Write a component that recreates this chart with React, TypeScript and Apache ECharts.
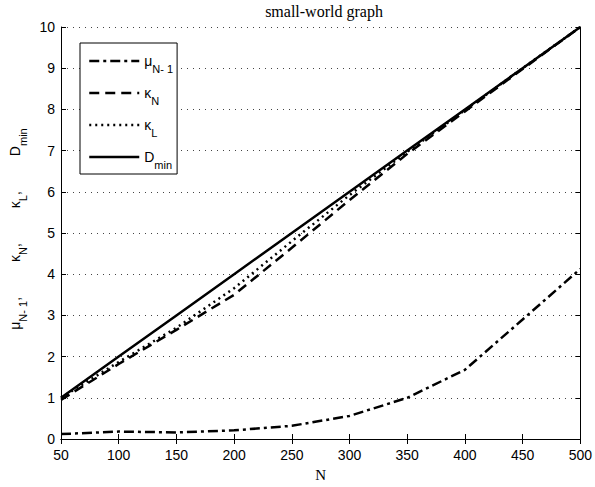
import React, { useEffect, useRef } from "react";
import * as echarts from "echarts";

const N = [50, 100, 150, 200, 250, 300, 350, 400, 450, 500];
const muN1 = [0.12, 0.18, 0.16, 0.21, 0.32, 0.56, 1.0, 1.68, 2.9, 4.13];
const kappaN = [0.95, 1.82, 2.65, 3.5, 4.64, 5.8, 6.92, 7.95, 8.98, 10.0];
const kappaL = [1.0, 1.87, 2.7, 3.66, 4.8, 5.92, 6.97, 7.98, 9.0, 10.0];
const Dmin = [1, 2, 3, 4, 5, 6, 7, 8, 9, 10];

const xTicks = { min: 50, max: 500, interval: 50 };
const yTicks = { min: 0, max: 10, interval: 1 };

const SANS = "Liberation Sans, Arial, sans-serif";
const SERIF = "Liberation Serif, Times New Roman, serif";

const legendRich: Record<string, string> = {
  "μN-1": "{b|μ}{s|N- 1}",
  "κN": "{b|κ}{s|N}",
  "κL": "{b|κ}{s|L}",
  "Dmin": "{b|D}{s|min}",
};

const richStyles = {
  b: { fontSize: 14, fontFamily: SANS, color: "#000", lineHeight: 26, verticalAlign: "middle" },
  s: { fontSize: 11, fontFamily: SANS, color: "#000", lineHeight: 11, verticalAlign: "bottom" },
};

export default function App() {
  const ref = useRef<HTMLDivElement>(null);
  useEffect(() => {
    if (!ref.current) return;
    const chart = echarts.init(ref.current, undefined, { renderer: "svg" });
    const mk = (xs: number[], ys: number[]) => xs.map((x, i) => [x, ys[i]]);
    const lw = 2.5;
    chart.setOption({
      animation: false,
      backgroundColor: "#fff",
      title: {
        text: "small-world graph",
        left: 319,
        textAlign: "center",
        top: -2,
        textStyle: { fontFamily: SERIF, fontSize: 16, fontWeight: "normal", color: "#000" },
      },
      grid: { left: 56, right: 12, top: 27, bottom: 44, containLabel: false },
      legend: {
        orient: "vertical",
        left: 80,
        top: 43,
        itemWidth: 50,
        itemHeight: 14,
        itemGap: 12,
        padding: [11, 4, 4, 8],
        borderColor: "#000",
        borderWidth: 1,
        backgroundColor: "#fff",
        lineStyle: { width: lw },
        itemStyle: { opacity: 0 },
        data: ["μN-1", "κN", "κL", "Dmin"],
        formatter: (name: string) => legendRich[name] || name,
        textStyle: { fontFamily: SANS, fontSize: 14, color: "#000", rich: richStyles },
      },
      xAxis: [
        {
          type: "value",
          ...xTicks,
          position: "bottom",
          name: "N",
          nameLocation: "middle",
          nameGap: 28,
          nameTextStyle: { fontFamily: SERIF, fontSize: 15, color: "#000" },
          axisLine: { show: true, lineStyle: { color: "#000", width: 1 } },
          axisTick: { show: true, inside: true, length: 5, lineStyle: { color: "#000" } },
          axisLabel: { fontFamily: SANS, fontSize: 14, color: "#000", margin: 9 },
          splitLine: { show: false },
        },
        {
          type: "value",
          ...xTicks,
          position: "top",
          axisLine: { show: true, lineStyle: { color: "#000", width: 1 } },
          axisTick: { show: true, inside: true, length: 5, lineStyle: { color: "#000" } },
          axisLabel: { show: false },
          splitLine: { show: false },
        },
      ],
      yAxis: [
        {
          type: "value",
          ...yTicks,
          position: "left",
          name: "{b|μ}{s|N- 1}{b|,         κ}{s|N}{b|,         κ}{s|L}{b|,         D}{s|min}",
          nameLocation: "middle",
          nameRotate: 90,
          nameGap: 33,
          nameTextStyle: {
            fontFamily: SANS,
            fontSize: 14,
            color: "#000",
            padding: [0, 0, 0, 8],
            rich: richStyles,
          },
          axisLine: { show: true, lineStyle: { color: "#000", width: 1 } },
          axisTick: { show: true, inside: true, length: 5, lineStyle: { color: "#000" } },
          axisLabel: { fontFamily: SANS, fontSize: 14, color: "#000", margin: 6 },
          splitLine: { show: true, lineStyle: { color: "#444", width: 1, type: [1, 5] } },
        },
        {
          type: "value",
          ...yTicks,
          position: "right",
          axisLine: { show: true, lineStyle: { color: "#000", width: 1 } },
          axisTick: { show: true, inside: true, length: 5, lineStyle: { color: "#000" } },
          axisLabel: { show: false },
          splitLine: { show: false },
        },
      ],
      series: [
        {
          name: "μN-1",
          type: "line",
          data: mk(N, muN1),
          symbol: "none",
          lineStyle: { color: "#000", width: lw, type: [10, 4, 3, 4] },
          itemStyle: { color: "#000" },
        },
        {
          name: "κN",
          type: "line",
          data: mk(N, kappaN),
          symbol: "none",
          lineStyle: { color: "#000", width: lw, type: [10, 6] },
          itemStyle: { color: "#000" },
        },
        {
          name: "κL",
          type: "line",
          data: mk(N, kappaL),
          symbol: "none",
          lineStyle: { color: "#000", width: lw, type: [2, 4] },
          itemStyle: { color: "#000" },
        },
        {
          name: "Dmin",
          type: "line",
          data: mk(N, Dmin),
          symbol: "none",
          lineStyle: { color: "#000", width: lw, type: "solid" },
          itemStyle: { color: "#000" },
        },
      ],
    });
    return () => chart.dispose();
  }, []);
  return <div ref={ref} style={{ width: 595, height: 487, position: "absolute", left: 0, top: 0 }} />;
}
